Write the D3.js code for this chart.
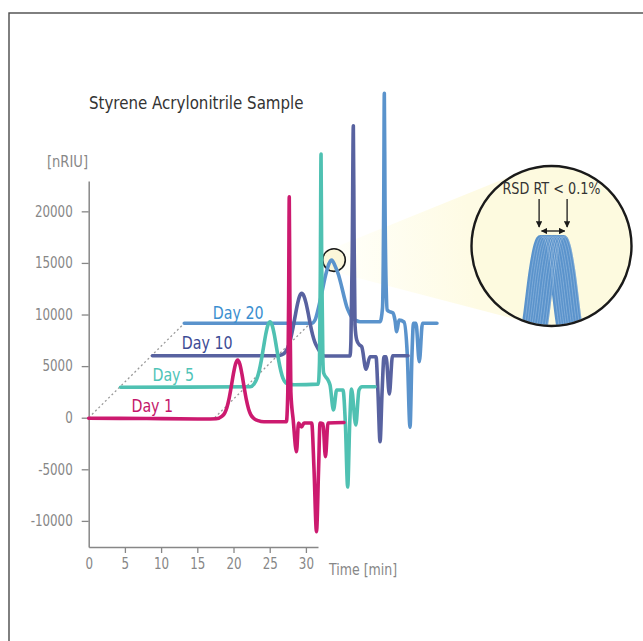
<!DOCTYPE html>
<html><head><meta charset="utf-8">
<script src="https://cdn.jsdelivr.net/npm/d3@7/dist/d3.min.js"></script>
<style>body{margin:0;background:#fff}svg{display:block}</style>
</head><body>
<svg id="c" width="643" height="641"></svg>
<script>
// ---------- data ----------
const title = "Styrene Acrylonitrile Sample";
const yUnit = "[nRIU]";
const xUnit = "Time [min]";
const yTicks = [-10000, -5000, 0, 5000, 10000, 15000, 20000];
const xTicks = [0, 5, 10, 15, 20, 25, 30];
const days = ["Day 1", "Day 5", "Day 10", "Day 20"];
const timeOffsets = [0, 4.4, 8.8, 13.2];
const signalOffsets = [0, 2950, 6000, 9150];
const guideTimes = [0, 17.4];

const day1 = [[0,-50],[8,-80],[16,-120],[17.6,-100],[18.38,127],[18.78,446],[19.08,963],[19.38,1816],[19.68,2970],[19.98,4220],[20.28,5210],[20.58,5590],[20.88,5180],[21.18,4170],[21.48,2900],[21.78,1720],[22.08,850],[22.38,300],[22.78,-50],[23.4,-280],[24.2,-390],[27.3,-390],[27.5,2500],[27.62,12000],[27.7,21400],[27.78,12000],[27.92,2500],[28.25,-250],[28.7,-3300],[28.98,-510],[29.39,-900],[29.74,-510],[30.8,-510],[31.12,-5000],[31.46,-11050],[31.75,-5000],[31.95,-510],[32.36,-610],[32.7,-3780],[33.05,-510],[35.26,-460]];
const day5 = [[0,0],[17.9,50],[18.44,320],[18.84,860],[19.14,1580],[19.44,2610],[19.74,3850],[20.04,5090],[20.34,6000],[20.64,6350],[20.94,6000],[21.24,5090],[21.54,3850],[21.84,2610],[22.14,1580],[22.44,860],[22.84,420],[23.4,280],[24,250],[27.3,300],[27.48,2500],[27.6,12000],[27.69,22600],[27.78,12000],[27.95,2500],[28.05,1380],[28.65,700],[28.93,220],[29.41,-2200],[29.85,-270],[30.72,-270],[31.05,-3500],[31.37,-9670],[31.65,-3500],[31.9,-170],[32.49,-3660],[32.93,-270],[33.35,50],[35.15,50]];
const day10 = [[0,0],[17.2,0],[17.92,107],[18.42,415],[18.82,1005],[19.12,1740],[19.42,2726],[19.72,3864],[20.02,4960],[20.32,5758],[20.62,6054],[20.92,5800],[21.22,5100],[21.52,4100],[21.82,3000],[22.12,2050],[22.42,1350],[22.87,700],[23.4,150],[23.84,-20],[27.29,-20],[27.42,1500],[27.6,10000],[27.75,22300],[27.85,12000],[27.98,3000],[28.22,1530],[28.6,1050],[28.91,880],[29.5,-1310],[30.05,-90],[30.88,-90],[31.15,-3500],[31.44,-8330],[31.72,-3500],[31.99,-90],[32.27,-100],[32.72,-3700],[33.16,0],[35.3,0]];
const day20 = [[0,0],[17.6,0],[18.06,317],[18.5,1400],[18.98,2904],[19.5,4600],[20.0,5800],[20.36,6131],[20.8,5600],[21.3,4700],[21.74,3544],[22.1,2500],[22.44,1606],[22.8,1000],[23.13,579],[23.7,280],[24.27,152],[27.04,152],[27.38,1500],[27.55,12000],[27.63,22284],[27.72,12000],[27.9,3000],[28.04,1286],[28.45,1100],[28.83,995],[29.1,300],[29.34,-817],[29.66,317],[30.35,123],[30.8,-3000],[31.18,-10080],[31.45,-3000],[31.66,0],[32.0,0],[32.46,-3724],[32.9,0],[34.9,0]];
const traces = [day1, day5, day10, day20];

// magnified apex of the Day 20 peak (time from apex in min, signal)
const insetProfile = [[-0.24,10980],[-0.2,11900],[-0.125,13780],[-0.075,14660],[-0.05,14920],[-0.035,15030],[0,15100],[0.035,15030],[0.05,14920],[0.075,14660],[0.125,13780],[0.2,11900],[0.24,10980]];
const insetShifts = [-0.1375,-0.105,-0.075,-0.045,-0.015,0.02,0.05,0.085,0.12,0.15];
const insetText = "RSD RT < 0.1%";
const markerPoint = [20.68, 6131]; // on Day 20 trace frame

// ---------- style ----------
const FONT = '"DejaVu Sans Condensed","Liberation Sans Narrow","Arial Narrow",sans-serif';
const lineColors = ["#cc1a6f", "#4fc1b2", "#5862a0", "#5a93cc"];
const labelColors = ["#c4166b", "#4fc4b7", "#3d4b95", "#3b8fd0"];
const axisColor = "#878787";

function condense(sel, k) {
  sel.each(function () {
    const L = this.getComputedTextLength();
    d3.select(this).attr("textLength", L * k).attr("lengthAdjust", "spacingAndGlyphs");
  });
  return sel;
}

const svg = d3.select("#c");
const x = d3.scaleLinear().domain([0, 31.67]).range([88.7, 318]);
const y = d3.scaleLinear().domain([-12530, 22940]).range([547, 181]);
const X = (t, i) => x(t + timeOffsets[i]);
const Y = (v, i) => y(v + signalOffsets[i]);

// frame
svg.append("rect").attr("x", 9).attr("y", 13).attr("width", 700).attr("height", 700)
  .attr("fill", "none").attr("stroke", "#4a4a4a").attr("stroke-width", 1.4);

// title
condense(svg.append("text").attr("x", 89).attr("y", 109).text(title)
  .attr("font-family", FONT).attr("font-size", 18).attr("fill", "#333"), 0.93);

// ---------- magnifier geometry ----------
const c1 = {x: X(markerPoint[0], 3), y: Y(markerPoint[1], 3), r: 11.3};
const c2 = {x: 551.5, y: 246, r: 80};
const dx = c2.x - c1.x, dy = c2.y - c1.y, d = Math.hypot(dx, dy);
const th = Math.atan2(dy, dx), ph = Math.acos((c1.r - c2.r) / d);
const pt = (c, a) => [c.x + c.r * Math.cos(a), c.y + c.r * Math.sin(a)];
const cone = [pt(c1, th - ph), pt(c2, th - ph), [c2.x, c2.y], pt(c2, th + ph), pt(c1, th + ph), [c1.x, c1.y]];

const defs = svg.append("defs");
const grad = defs.append("linearGradient").attr("id", "cg").attr("gradientUnits", "userSpaceOnUse")
  .attr("x1", c1.x).attr("y1", c1.y).attr("x2", c2.x - c2.r).attr("y2", c2.y);
grad.append("stop").attr("offset", 0).attr("stop-color", "#fffffa");
grad.append("stop").attr("offset", 1).attr("stop-color", "#fefbe4");
svg.append("path").attr("d", "M" + cone.map(p => p.join(",")).join("L") + "Z").attr("fill", "url(#cg)");

// ---------- axes ----------
const yAxis = svg.append("g").attr("transform", "translate(88.7,0)")
  .call(d3.axisLeft(y).tickValues(yTicks).tickSize(7).tickPadding(9).tickFormat(d => String(d)).tickSizeOuter(0));
const xAxis = svg.append("g").attr("transform", "translate(0,547)")
  .call(d3.axisBottom(x).tickValues(xTicks).tickSize(6).tickPadding(9).tickSizeOuter(0));
[yAxis, xAxis].forEach(g => {
  g.select(".domain").attr("stroke", axisColor).attr("stroke-width", 1.5);
  g.selectAll(".tick line").attr("stroke", axisColor).attr("stroke-width", 1.3);
  g.selectAll(".tick text").attr("fill", axisColor).attr("font-family", FONT).attr("font-size", 15);
  condense(g.selectAll(".tick text"), 0.88);
});
xAxis.selectAll(".tick").filter(d => d === 0).select("line").remove();
xAxis.selectAll(".tick text").attr("dy", "0.45em");
condense(svg.append("text").attr("x", 67.5).attr("y", 166.5).attr("text-anchor", "middle").text(yUnit)
  .attr("font-family", FONT).attr("font-size", 15).attr("fill", axisColor), 0.97);
condense(svg.append("text").attr("x", 329).attr("y", 574.5).text(xUnit)
  .attr("font-family", FONT).attr("font-size", 15).attr("fill", axisColor), 0.93);

// dotted guides
guideTimes.forEach(t => {
  svg.append("line").attr("x1", X(t, 0)).attr("y1", Y(0, 0)).attr("x2", X(t, 3)).attr("y2", Y(0, 3))
    .attr("stroke", "#9a9a9a").attr("stroke-width", 1.3).attr("stroke-dasharray", "2,2.6");
});

// small marker circle
svg.append("circle").attr("cx", c1.x).attr("cy", c1.y).attr("r", c1.r)
  .attr("fill", "#fbf6d9").attr("stroke", "#1a1a1a").attr("stroke-width", 1.6);

// traces (back to front)
const line = d3.line().curve(d3.curveMonotoneX);
[3, 2, 1, 0].forEach(i => {
  svg.append("path").attr("d", line(traces[i].map(p => [X(p[0], i), Y(p[1], i)])))
    .attr("fill", "none").attr("stroke", lineColors[i]).attr("stroke-width", 3.6)
    .attr("stroke-linejoin", "round").attr("stroke-linecap", "round");
});

// day labels
const labelT = [5.9, 4.4, 4.05, 3.95];
const labelDy = [6, 6.6, 6.7, 4.2];
days.forEach((name, i) => {
  condense(svg.append("text").attr("x", X(labelT[i], i)).attr("y", Y(0, i) - labelDy[i]).text(name)
    .attr("font-family", FONT).attr("font-size", 18).attr("fill", labelColors[i]), 0.88);
});

// ---------- magnifier ----------
defs.append("clipPath").attr("id", "cc").append("circle").attr("cx", c2.x).attr("cy", c2.y).attr("r", c2.r - 1);
svg.append("circle").attr("cx", c2.x).attr("cy", c2.y).attr("r", c2.r).attr("fill", "#fdfadf");
const xi = d3.scaleLinear().domain([-0.5, 0.5]).range([c2.x - 40, c2.x + 40]);
const yi = d3.scaleLinear().domain([15100, 11100]).range([236.7, 336.7]);
const ig = svg.append("g").attr("clip-path", "url(#cc)");
const iline = d3.line().curve(d3.curveMonotoneX);
insetShifts.forEach(s => {
  ig.append("path").attr("d", iline(insetProfile.map(p => [xi(p[0] + s), yi(p[1])])))
    .attr("fill", "none").attr("stroke", "#5a93cc").attr("stroke-width", 3.4);
});
insetShifts.forEach(s => {
  ig.append("path").attr("d", iline(insetProfile.map(p => [xi(p[0] + s) + 1.2, yi(p[1])])))
    .attr("fill", "none").attr("stroke", "#ffffff").attr("stroke-opacity", 0.45).attr("stroke-width", 0.5);
});
svg.append("circle").attr("cx", c2.x).attr("cy", c2.y).attr("r", c2.r)
  .attr("fill", "none").attr("stroke", "#1a1a1a").attr("stroke-width", 2.4);
condense(svg.append("text").attr("x", c2.x).attr("y", 193.5).attr("text-anchor", "middle").text(insetText)
  .attr("font-family", FONT).attr("font-size", 15).attr("fill", "#333"), 0.95);

// arrows
const mk = defs.append("marker").attr("id", "ah").attr("viewBox", "0 0 10 10").attr("refX", 9).attr("refY", 5)
  .attr("markerWidth", 5).attr("markerHeight", 5).attr("orient", "auto-start-reverse");
mk.append("path").attr("d", "M0,0L10,5L0,10Z").attr("fill", "#1a1a1a");
[xi(-0.155), xi(0.195)].forEach(ax => {
  svg.append("line").attr("x1", ax).attr("y1", 199).attr("x2", ax).attr("y2", 227)
    .attr("stroke", "#1a1a1a").attr("stroke-width", 1.3).attr("marker-end", "url(#ah)");
});
svg.append("line").attr("x1", xi(-0.125)).attr("y1", 231).attr("x2", xi(0.165)).attr("y2", 231)
  .attr("stroke", "#1a1a1a").attr("stroke-width", 1.3)
  .attr("marker-start", "url(#ah)").attr("marker-end", "url(#ah)");
</script>
</body></html>
